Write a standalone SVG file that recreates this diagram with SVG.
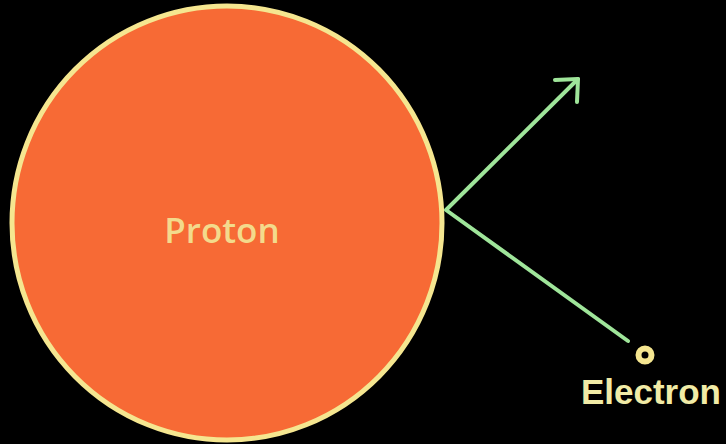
<svg xmlns="http://www.w3.org/2000/svg" width="726" height="444" viewBox="0 0 726 444">
<style>
.lbl{text-anchor:middle}
.con{stroke:#9FE59A;stroke-width:4;fill:none;stroke-linecap:round;stroke-linejoin:round}
</style>
<rect width="726" height="444" fill="#000"/>
<g id="proton">
<ellipse cx="227" cy="223" rx="215" ry="217" fill="#F76A35" stroke="#F5E690" stroke-width="5"/>
<text class="lbl" x="222" y="243" fill="#F3DA8C" font-family="'Open Sans','Liberation Sans',Arial,sans-serif" font-size="35" font-weight="600">Proton</text>
</g>
<g id="electron">
<circle cx="645" cy="355" r="6.5" fill="none" stroke="#F5E690" stroke-width="6"/>
<text class="lbl" x="651" y="404" fill="#F1EBA6" font-family="'Liberation Sans',Arial,sans-serif" font-size="35" font-weight="bold">Electron</text>
</g>
<g id="connectors">
<path class="con" d="M628,341 L446,210 L578,79"/>
<path class="con" d="M555,80 L578,79 L577,102"/>
</g>
</svg>
